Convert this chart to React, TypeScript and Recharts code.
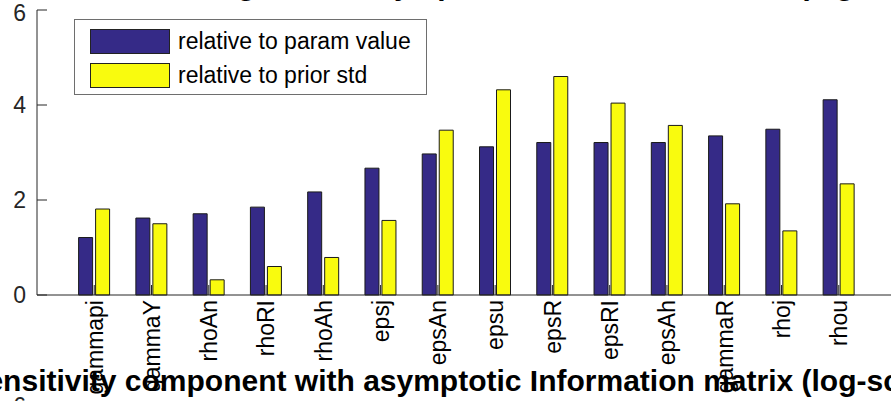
import { BarChart, Bar, XAxis, YAxis, Legend } from "recharts";

const categories = [
  "gammapi", "gammaY", "rhoAn", "rhoRI", "rhoAh", "epsj", "epsAn",
  "epsu", "epsR", "epsRI", "epsAh", "gammaR", "rhoj", "rhou",
];
const paramValue = [1.21, 1.62, 1.71, 1.85, 2.17, 2.67, 2.97, 3.12, 3.21, 3.21, 3.21, 3.35, 3.49, 4.11];
const priorStd = [1.81, 1.5, 0.32, 0.6, 0.79, 1.57, 3.47, 4.32, 4.6, 4.04, 3.57, 1.92, 1.35, 2.34];
const yTicks = [0, 2, 4, 6];

const FONT = '"Liberation Sans", Arial, Helvetica, sans-serif';
const AXIS = "#262626";
const BLUE = "#352a87";
const YELLOW = "#f9fb0e";

const data = categories.map((name, i) => ({
  name,
  param: paramValue[i],
  prior: priorStd[i],
}));

function NameTick(props: any) {
  const { x, y, payload } = props;
  return (
    <text
      transform={`translate(${x},${y}) rotate(-90)`}
      textAnchor="end"
      dy="0.36em"
      fontSize={23}
      fontFamily={FONT}
      fill="#000"
    >
      {payload.value}
    </text>
  );
}

function LegendBox(props: any) {
  const items = props.payload || [];
  return (
    <div
      style={{
        width: 353,
        height: 76,
        boxSizing: "border-box",
        border: "1px solid #6e6e6e",
        background: "#fff",
        paddingTop: 4,
        paddingLeft: 15,
        fontFamily: FONT,
        fontSize: 23,
      }}
    >
      {items.map((it: any) => (
        <div key={it.value} style={{ display: "flex", alignItems: "center", height: 34 }}>
          <span
            style={{
              width: 80,
              height: 25,
              boxSizing: "border-box",
              background: it.color,
              border: "1px solid #222",
              marginRight: 8,
            }}
          />
          <span style={{ color: "#000" }}>{it.value}</span>
        </div>
      ))}
    </div>
  );
}

const titleStyle = {
  position: "absolute" as const,
  left: 459,
  transform: "translateX(-50%)",
  whiteSpace: "nowrap" as const,
  fontFamily: FONT,
  fontWeight: "bold" as const,
  fontSize: 30,
  lineHeight: "34px",
  color: "#000",
};

export default function App() {
  return (
    <div
      style={{
        position: "fixed",
        left: 0,
        top: 0,
        width: 891,
        height: 401,
        overflow: "hidden",
        background: "#fff",
      }}
    >
      <BarChart
        width={910}
        height={401}
        data={data}
        margin={{ top: 10, right: 0, bottom: 0, left: 0 }}
        barGap={3}
        barSize={14}
      >
        <XAxis
          xAxisId="bottom"
          dataKey="name"
          height={106}
          padding={{ left: 28.6, right: 28.6 }}
          interval={0}
          tickSize={-10}
          tickMargin={15}
          stroke={AXIS}
          tick={NameTick}
        />
        <XAxis
          xAxisId="top"
          orientation="top"
          dataKey="name"
          height={0}
          padding={{ left: 28.6, right: 28.6 }}
          interval={0}
          tickSize={-10}
          tick={false}
          stroke={AXIS}
        />
        <YAxis
          yAxisId="left"
          width={37}
          domain={[0, 6]}
          ticks={yTicks}
          tickSize={-10}
          tickMargin={21}
          stroke={AXIS}
          tick={{ fill: AXIS, fontSize: 23, fontFamily: FONT }}
        />
        <YAxis
          yAxisId="right"
          orientation="right"
          width={14}
          domain={[0, 6]}
          ticks={yTicks}
          tickSize={-10}
          tick={false}
          stroke={AXIS}
        />
        <Legend
          layout="vertical"
          align="center"
          verticalAlign="middle"
          content={LegendBox}
          wrapperStyle={{ position: "absolute", left: 74, top: 19, width: 353, height: 76 }}
        />
        <Bar
          xAxisId="bottom"
          yAxisId="left"
          dataKey="param"
          name="relative to param value"
          fill={BLUE}
          stroke="#1a1a1a"
          strokeWidth={1}
          isAnimationActive={false}
        />
        <Bar
          xAxisId="bottom"
          yAxisId="left"
          dataKey="prior"
          name="relative to prior std"
          fill={YELLOW}
          stroke="#1a1a1a"
          strokeWidth={1}
          isAnimationActive={false}
        />
      </BarChart>
      <div style={{ ...titleStyle, top: -32 }}>
        Identification strength with asymptotic Information matrix (log-scale)
      </div>
      <div style={{ ...titleStyle, top: 364 }}>
        Sensitivity component with asymptotic Information matrix (log-scale)
      </div>
      <div
        style={{
          position: "absolute",
          right: 891 - 26,
          top: 393,
          fontFamily: FONT,
          fontSize: 23,
          lineHeight: "26px",
          color: AXIS,
        }}
      >
        6
      </div>
    </div>
  );
}
